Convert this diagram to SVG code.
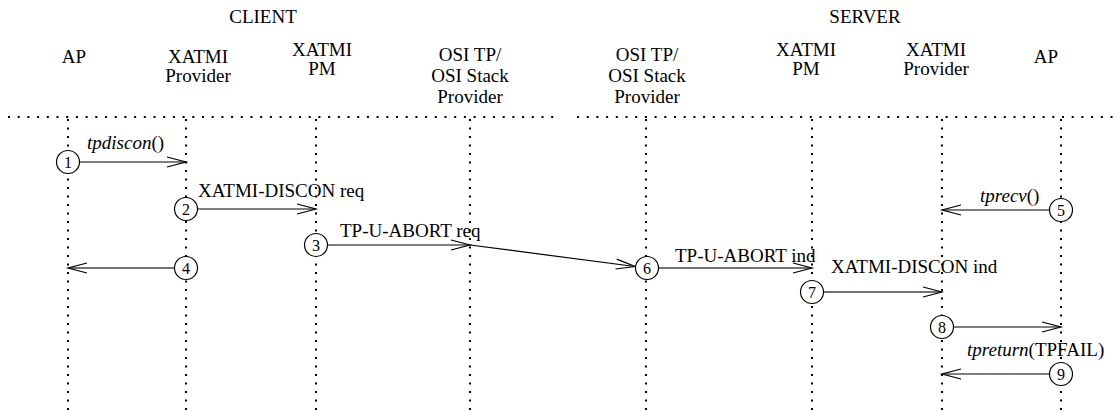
<svg xmlns="http://www.w3.org/2000/svg" width="1117" height="412" viewBox="0 0 1117 412">
<style>
text{font-family:"Liberation Serif","Times New Roman",serif;font-size:19px;fill:#000}
.hd{text-anchor:middle}
.it{font-style:italic}
.hdots{stroke:#000;stroke-width:2;stroke-dasharray:2 7.7;fill:none}
.vdots{stroke:#000;stroke-width:2;stroke-dasharray:2 6.5;fill:none}
.msg{stroke:#000;stroke-width:1.2;fill:none;marker-end:url(#open)}
.msg2{stroke:#444;stroke-width:1.6;fill:none;marker-end:url(#open)}
.step circle{fill:#fff;stroke:#000;stroke-width:1.2}
.step text{font-size:16px;text-anchor:middle}
</style>
<defs>
<marker id="open" markerUnits="userSpaceOnUse" markerWidth="24" markerHeight="14" viewBox="-21 -7 24 14" refX="0" refY="0" orient="auto">
<path d="M-19,-5 L0,0 L-19,5" fill="none" stroke="#000" stroke-width="1.2"/>
</marker>
</defs>

<g id="titles">
<text class="hd" x="263" y="23">CLIENT</text>
<text class="hd" x="865" y="23">SERVER</text>
</g>
<g id="separator">
<line class="hdots" x1="8" y1="117" x2="555" y2="117"/>
<line class="hdots" x1="577" y1="117" x2="1113" y2="117"/>
</g>

<g id="client-ap">
<text class="hd" x="74" y="63">AP</text>
<line class="vdots" x1="68" y1="119" x2="68" y2="412"/>
</g>
<g id="client-xatmi-provider">
<text class="hd" x="198" y="63">XATMI</text>
<text class="hd" x="198" y="82">Provider</text>
<line class="vdots" x1="186" y1="119" x2="186" y2="412"/>
</g>
<g id="client-xatmi-pm">
<text class="hd" x="322" y="56">XATMI</text>
<text class="hd" x="322" y="75">PM</text>
<line class="vdots" x1="316" y1="119" x2="316" y2="412"/>
</g>
<g id="client-osi">
<text class="hd" x="470" y="61">OSI TP/</text>
<text class="hd" x="470" y="82">OSI Stack</text>
<text class="hd" x="470" y="103">Provider</text>
<line class="vdots" x1="470" y1="119" x2="470" y2="412"/>
</g>
<g id="server-osi">
<text class="hd" x="647" y="61">OSI TP/</text>
<text class="hd" x="647" y="82">OSI Stack</text>
<text class="hd" x="647" y="103">Provider</text>
<line class="vdots" x1="646" y1="119" x2="646" y2="412"/>
</g>
<g id="server-xatmi-pm">
<text class="hd" x="806" y="56">XATMI</text>
<text class="hd" x="806" y="75">PM</text>
<line class="vdots" x1="812" y1="119" x2="812" y2="412"/>
</g>
<g id="server-xatmi-provider">
<text class="hd" x="936" y="56">XATMI</text>
<text class="hd" x="936" y="75">Provider</text>
<line class="vdots" x1="942" y1="119" x2="942" y2="412"/>
</g>
<g id="server-ap">
<text class="hd" x="1046" y="63">AP</text>
<line class="vdots" x1="1061" y1="119" x2="1061" y2="412"/>
</g>

<g id="connectors">
<line class="msg" x1="80" y1="162" x2="186" y2="162"/>
<text x="87" y="149"><tspan class="it">tpdiscon</tspan>()</text>
<line class="msg" x1="198" y1="209" x2="316" y2="209"/>
<text x="198" y="197">XATMI-DISCON req</text>
<line class="msg" x1="328" y1="245" x2="470" y2="245"/>
<line class="msg" x1="470" y1="245" x2="635" y2="266.5"/>
<text x="340" y="237">TP-U-ABORT req</text>
<line class="msg2" x1="174" y1="268" x2="68" y2="268"/>
<line class="msg" x1="1049" y1="210" x2="942" y2="210"/>
<text x="980" y="202"><tspan class="it">tprecv</tspan>()</text>
<line class="msg2" x1="659" y1="268" x2="812" y2="268"/>
<text x="675" y="262">TP-U-ABORT ind</text>
<line class="msg2" x1="824" y1="292" x2="942" y2="292"/>
<text x="831" y="273">XATMI-DISCON ind</text>
<line class="msg" x1="954" y1="327" x2="1061" y2="327"/>
<text x="967" y="356"><tspan class="it">tpreturn</tspan>(TPFAIL)</text>
<line class="msg" x1="1049" y1="374" x2="942" y2="374"/>
</g>

<g id="steps">
<g id="step1" class="step"><circle cx="68" cy="162" r="11.5"/><text x="68" y="167.5">1</text></g>
<g id="step2" class="step"><circle cx="186" cy="209" r="11.5"/><text x="186" y="214.5">2</text></g>
<g id="step3" class="step"><circle cx="316" cy="245" r="11.5"/><text x="316" y="250.5">3</text></g>
<g id="step4" class="step"><circle cx="186" cy="268" r="11.5"/><text x="186" y="273.5">4</text></g>
<g id="step5" class="step"><circle cx="1061" cy="210" r="11.5"/><text x="1061" y="215.5">5</text></g>
<g id="step6" class="step"><circle cx="647" cy="268" r="11.5"/><text x="647" y="273.5">6</text></g>
<g id="step7" class="step"><circle cx="812" cy="292" r="11.5"/><text x="812" y="297.5">7</text></g>
<g id="step8" class="step"><circle cx="942" cy="327" r="11.5"/><text x="942" y="332.5">8</text></g>
<g id="step9" class="step"><circle cx="1061" cy="374" r="11.5"/><text x="1061" y="379.5">9</text></g>
</g>
</svg>
